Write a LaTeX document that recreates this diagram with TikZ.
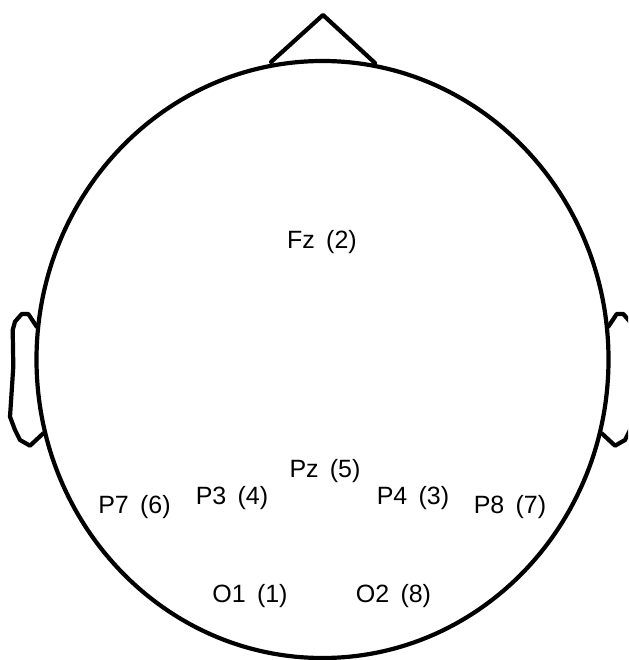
\documentclass[tikz,border=0pt]{standalone}
\usepackage{fontspec}
\setmainfont{Liberation Sans}
\begin{document}
\begin{tikzpicture}[x=1pt,y=-1pt,
  headline/.style={line width=4.2pt,line join=round,line cap=round},
  chanlabel/.style={font=\fontsize{25}{27}\selectfont,inner sep=0pt,anchor=center}]
\useasboundingbox (0,0) rectangle (628,660);
\clip (0,0) rectangle (628,660);
% head
\draw[headline] (322.5,359.5) ellipse [x radius=286, y radius=298.5];
% nose
\coordinate (noseL) at (271,62);
\coordinate (noseT) at (323,15);
\coordinate (noseR) at (375,63);
\draw[headline] (noseL) -- (noseT) -- (noseR);
% left ear
\draw[headline] (36.7,326.7) -- (28.3,314) -- (21.7,314) -- (15,321.7) -- (12.7,330)
  -- (13.3,366.7) -- (10,416.7) -- (15,430) -- (20,440) -- (30,445.7) -- (43.3,433.3);
% right ear
\draw[headline] (608.3,326.7) -- (616.7,314) -- (623.3,314) -- (630,321.7) -- (632.3,330)
  -- (631.7,366.7) -- (635,416.7) -- (630,430) -- (625,440) -- (615,445.7) -- (601.7,433.3);
% labels
\node[chanlabel] (Fz) at (322,242) {Fz\hspace{0.45em}(2)};
\node[chanlabel] (Pz) at (325,471) {Pz\hspace{0.45em}(5)};
\node[chanlabel] (P3) at (232,498) {P3\hspace{0.45em}(4)};
\node[chanlabel] (P4) at (413,498) {P4\hspace{0.45em}(3)};
\node[chanlabel] (P7) at (134.5,507) {P7\hspace{0.45em}(6)};
\node[chanlabel] (P8) at (510,507) {P8\hspace{0.45em}(7)};
\node[chanlabel] (O1) at (250,596) {O1\hspace{0.45em}(1)};
\node[chanlabel] (O2) at (393.5,596) {O2\hspace{0.45em}(8)};
\end{tikzpicture}
\end{document}
